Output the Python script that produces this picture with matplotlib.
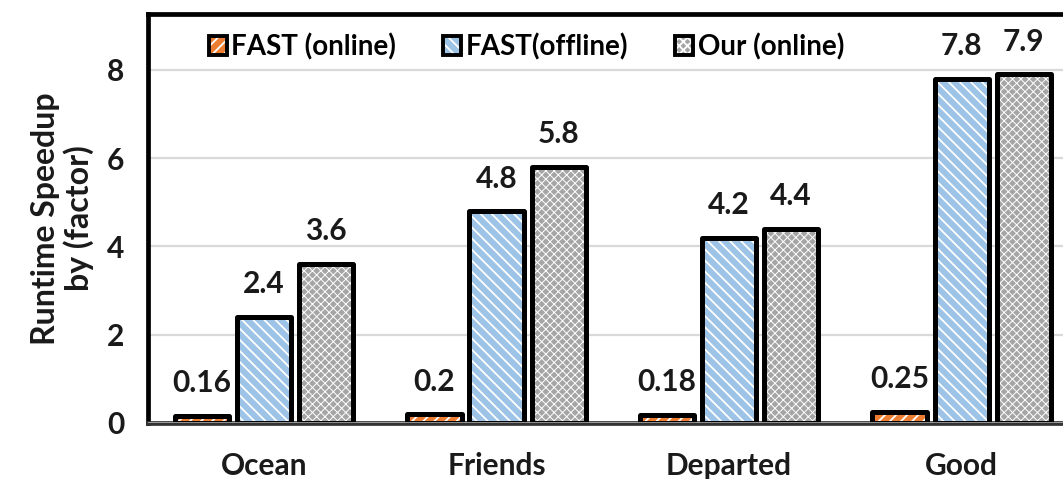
import matplotlib.pyplot as plt
import numpy as np
from matplotlib.patches import Patch

plt.rcParams['font.family'] = ['Lato', 'DejaVu Sans']
plt.rcParams['font.weight'] = 'bold'
plt.rcParams['hatch.linewidth'] = 1.3

movies = ['Ocean', 'Friends', 'Departed', 'Good']
series = ['FAST (online)', 'FAST(offline)', 'Our (online)']
fast_online = [0.16, 0.2, 0.18, 0.25]
fast_offline = [2.4, 4.8, 4.2, 7.8]
our_online = [3.6, 5.8, 4.4, 7.9]

colors = ['#ED7D31', '#9DC3E6', '#A5A5A5']
hatches = ['///', '\\\\\\', 'xxxx']
hatch_widths = [1.3, 1.3, 0.7]


def plot_speedup() -> None:
    fig = plt.figure(figsize=(10.63, 4.79), dpi=100)
    ax = fig.add_axes([0.139, 0.117, 0.875, 0.854])

    x = np.arange(len(movies))
    width = 0.233
    step = 0.267
    handles = []
    for i, vals in enumerate([fast_online, fast_offline, our_online]):
        pos = x + (i - 1) * step
        # hatched fill first, then a thick black outline on top
        fill = ax.bar(pos, vals, width, color=colors[i], edgecolor='white',
                      linewidth=0, hatch=hatches[i], zorder=3)
        for p in fill:
            p._hatch_linewidth = hatch_widths[i]
        ax.bar(pos, vals, width, fill=False, edgecolor='black',
               linewidth=3.6, joinstyle='round', zorder=4)
        for px, v in zip(pos, vals):
            ax.annotate(f'{v:g}', (px, v), xytext=(0, 17),
                        textcoords='offset points', ha='center',
                        va='baseline', fontsize=21.5, fontweight='bold',
                        color='#1a1a1a')
        hp = Patch(facecolor=colors[i], edgecolor='white', linewidth=0,
                   hatch=hatches[i])
        hp._hatch_linewidth = hatch_widths[i]
        handles.append((hp, Patch(fill=False, edgecolor='black',
                                  linewidth=2.8)))

    ax.set_xlim(-0.5, 3.5)
    ax.set_ylim(0, 9.27)
    ax.set_yticks([0, 2, 4, 6, 8])
    ax.set_xticks(x)
    ax.set_xticklabels(movies)
    ax.tick_params(axis='both', length=0, labelsize=21.5, colors='#1a1a1a')
    ax.tick_params(axis='x', pad=21)
    ax.tick_params(axis='y', pad=17)

    ax.grid(axis='y', color='#D9D9D9', linewidth=1.6, zorder=0)
    ax.set_axisbelow(True)
    ax.axhline(0, color='#BFBFBF', linewidth=1.8, zorder=5)

    for side in ['left', 'top', 'right']:
        ax.spines[side].set_linewidth(3.4)
        ax.spines[side].set_color('black')
    ax.spines['bottom'].set_linewidth(3.4)
    ax.spines['bottom'].set_color('#333333')

    ax.set_ylabel('Runtime Speedup\nby (factor)', fontsize=23,
                  fontweight='bold', color='#1a1a1a', labelpad=9,
                  linespacing=1.15)

    ax.legend(handles, series, loc='upper left', bbox_to_anchor=(0.045, 1.0),
              ncol=3, frameon=False, fontsize=20, handlelength=0.65,
              handleheight=0.65, handletextpad=0.15, columnspacing=1.7,
              borderaxespad=0.3)

    fig.savefig('out.png', dpi=100)


if __name__ == '__main__':
    plot_speedup()
